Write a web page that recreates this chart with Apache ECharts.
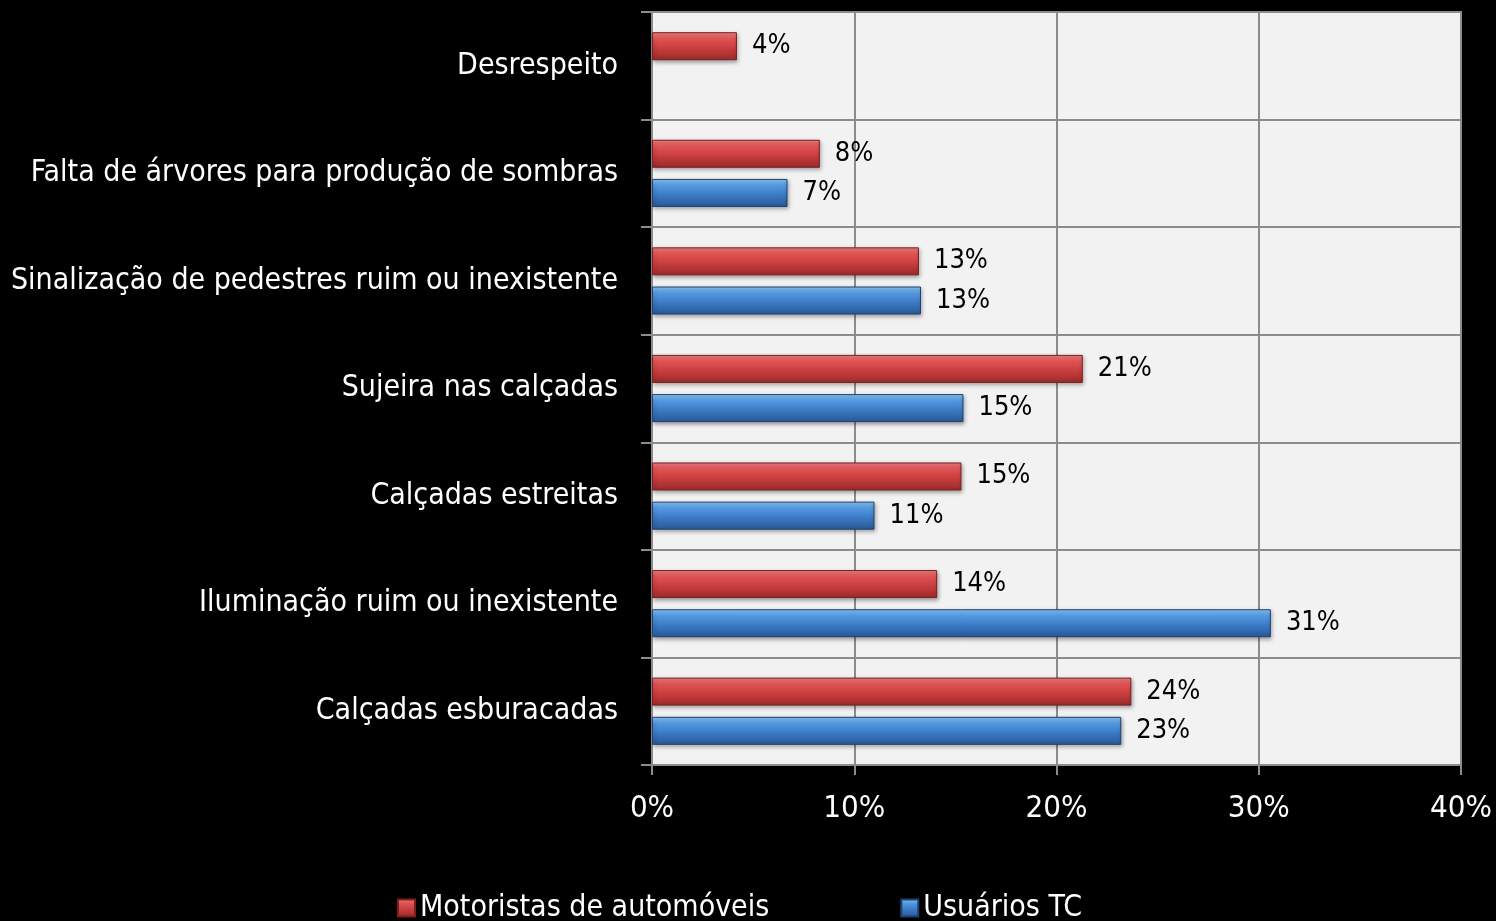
<!DOCTYPE html>
<html>
<head>
<meta charset="utf-8">
<script src="https://cdn.jsdelivr.net/npm/echarts@6/dist/echarts.min.js"></script>
<style>
html,body{margin:0;padding:0;background:#000;}
#chart{width:1496px;height:921px;}
</style>
</head>
<body>
<div id="chart"></div>
<script>
const categories = [
  "Desrespeito",
  "Falta de árvores para produção de sombras",
  "Sinalização de pedestres ruim ou inexistente",
  "Sujeira nas calçadas",
  "Calçadas estreitas",
  "Iluminação ruim ou inexistente",
  "Calçadas esburacadas"
];
const seriesNames = ["Motoristas de automóveis", "Usuários TC"];
const motoristas = [0.042, 0.083, 0.132, 0.213, 0.153, 0.141, 0.237];
const usuariosTC = [null, 0.067, 0.133, 0.154, 0.110, 0.306, 0.232];
const xTicks = [0, 0.1, 0.2, 0.3, 0.4];

const FONT = '"Liberation Sans Narrow", "Arial Narrow", "DejaVu Sans Condensed", sans-serif';
const pct = v => Math.round(v * 100) + '%';

const redGrad = new echarts.graphic.LinearGradient(0, 0, 0, 1, [
  {offset: 0, color: '#f08080'},
  {offset: 0.25, color: '#e05252'},
  {offset: 0.6, color: '#c63c3c'},
  {offset: 1, color: '#9a2a2a'}
]);
const blueGrad = new echarts.graphic.LinearGradient(0, 0, 0, 1, [
  {offset: 0, color: '#8cc6f7'},
  {offset: 0.25, color: '#5198e0'},
  {offset: 0.6, color: '#3a78c2'},
  {offset: 1, color: '#2a5796'}
]);

const chart = echarts.init(document.getElementById('chart'));
const lineColor = '#8c8c8c';
function barSeries(name, data, grad, border) {
  return {
    name: name,
    type: 'bar',
    data: data,
    barWidth: 28,
    barGap: '40%',
    itemStyle: {
      color: grad,
      borderColor: border,
      borderWidth: 1,
      shadowColor: 'rgba(0,0,0,0.35)',
      shadowBlur: 4,
      shadowOffsetY: 2,
      shadowOffsetX: 1
    },
    label: {
      show: true,
      position: 'right',
      distance: 15,
      formatter: p => pct(p.value),
      color: '#000',
      fontFamily: FONT,
      fontSize: 27
    }
  };
}
chart.setOption({
  backgroundColor: '#000',
  animation: false,
  grid: {
    left: 652, right: 35, top: 12, bottom: 156,
    containLabel: false, outerBoundsMode: 'none',
    show: true, backgroundColor: '#f2f2f2', borderColor: lineColor, borderWidth: 2
  },
  legend: {
    bottom: -7,
    left: 392,
    itemGap: 131,
    itemWidth: 17,
    itemHeight: 17,
    icon: 'rect',
    textStyle: {color: '#fff', fontFamily: FONT, fontSize: 30},
    data: seriesNames
  },
  xAxis: {
    type: 'value',
    min: xTicks[0], max: xTicks[xTicks.length - 1], interval: 0.1,
    axisLine: {show: true, lineStyle: {color: lineColor, width: 2}},
    axisTick: {show: true, length: 10, lineStyle: {color: lineColor, width: 2}},
    splitLine: {show: true, lineStyle: {color: lineColor, width: 2}},
    axisLabel: {color: '#fff', fontFamily: FONT, fontSize: 31, margin: 28, formatter: v => pct(v)}
  },
  yAxis: {
    type: 'category',
    inverse: true,
    data: categories,
    axisLine: {show: true, lineStyle: {color: lineColor, width: 2}},
    axisTick: {show: true, length: 11, lineStyle: {color: lineColor, width: 2}},
    splitLine: {show: true, lineStyle: {color: lineColor, width: 2}},
    axisLabel: {color: '#fff', fontFamily: FONT, fontSize: 30, margin: 34}
  },
  series: [
    barSeries(seriesNames[0], motoristas, redGrad, '#7a1f1f'),
    barSeries(seriesNames[1], usuariosTC, blueGrad, '#1f4070')
  ]
});
</script>
</body>
</html>
